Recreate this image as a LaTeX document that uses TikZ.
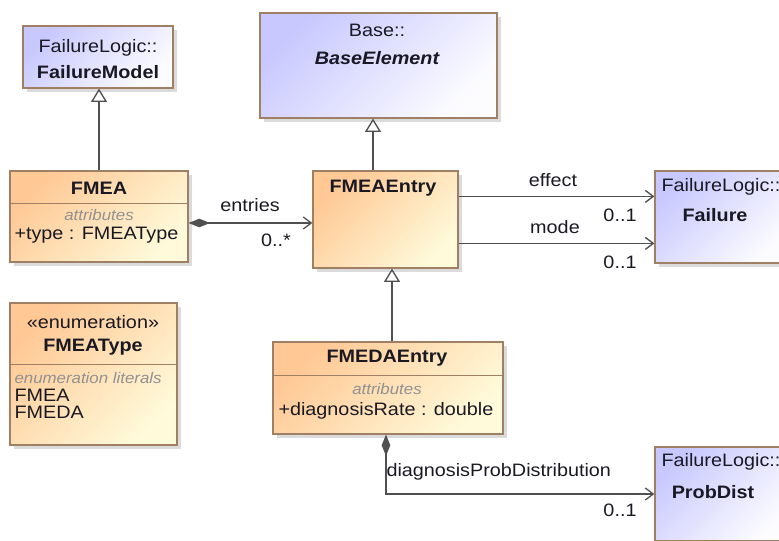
\documentclass[tikz,border=0pt]{standalone}
\usepackage{fontspec}
\setmainfont{Liberation Sans}[FakeStretch=1.1]
\usetikzlibrary{arrows.meta,shadows,fit,calc}

\definecolor{boxline}{RGB}{160,128,100}
\definecolor{linkline}{RGB}{80,80,80}
\definecolor{ink}{RGB}{25,25,35}
\definecolor{dimtext}{RGB}{145,145,145}
\definecolor{orangeA}{RGB}{255,200,148}
\definecolor{orangeB}{RGB}{255,250,218}
\definecolor{blueA}{RGB}{200,200,255}
\definecolor{blueB}{RGB}{252,252,255}

\tikzset{every picture/.style={line width=0.75pt}}
\tikzset{
  umlbox/.style={draw=boxline, line width=0.9pt, inner sep=0pt,
    drop shadow={shadow xshift=3pt, shadow yshift=-3pt, fill=black!35, opacity=0.4}},
  classbox/.style={umlbox, top color=orangeA, bottom color=orangeB, shading angle=45},
  refbox/.style={umlbox, top color=blueA, bottom color=blueB, shading angle=45},
  txt/.style={inner sep=0pt, text=ink, font=\fontsize{13.5}{15}\selectfont},
  cname/.style={txt, font=\fontsize{13.5}{15}\selectfont\bfseries},
  cgroup/.style={inner sep=0pt, text=dimtext, font=\fontsize{11.5}{13}\selectfont\itshape},
  sepline/.style={draw=boxline, line width=0.9pt},
  link/.style={draw=linkline, line width=1pt},
  gen/.style={link, -{Triangle[open, length=10pt, width=12pt, fill=white]}},
  assoc/.style={link, -{Straight Barb[length=6pt, width=9pt]}},
  compo/.style={link, {Diamond[length=16pt, width=6.5pt]}-{Straight Barb[length=6pt, width=9pt]}},
}

\begin{document}
\begin{tikzpicture}[x=0.75pt,y=0.75pt,yscale=-1,xscale=1]
	\useasboundingbox (0,0) rectangle (779,540);
	\clip (0,0) rectangle (779,540);

	%Shapes: Boxes
	\node[refbox, fit={(23,26) (173,88)}] (failmodel) {};
	\node[refbox, fit={(260,13) (497,118)}] (baseel) {};
	\node[classbox, fit={(10,171) (188,262)}] (fmea) {};
	\node[classbox, fit={(313,171) (458,268)}] (fmeaentry) {};
	\node[refbox, fit={(655,171) (790,263)}] (failure) {};
	\node[classbox, fit={(10,303) (177,445)}] (fmeatype) {};
	\node[classbox, fit={(273,342) (503,434)}] (fmedaentry) {};
	\node[refbox, fit={(655,447) (790,541)}] (probdist) {};

	%Straight Lines: compartments
	\draw[sepline] ($(fmea.north west)+(0,33)$) -- ($(fmea.north east)+(0,33)$);
	\draw[sepline] ($(fmeatype.north west)+(0,62)$) -- ($(fmeatype.north east)+(0,62)$);
	\draw[sepline] ($(fmedaentry.north west)+(0,34)$) -- ($(fmedaentry.north east)+(0,34)$);

	% Text Node
	\node[txt] (failmodelPkg) at (98,48) {FailureLogic::};
	\node[cname] (failmodelName) at (98,72) {FailureModel};
	% Text Node
	\node[txt] (baseelPkg) at (377,30) {Base::};
	\node[cname, font=\fontsize{13.5}{15}\selectfont\bfseries\itshape] (baseelName) at (377,58) {BaseElement};
	% Text Node
	\node[cname] (fmeaName) at (99,188) {FMEA};
	\node[cgroup] (fmeaGroup) at (99,215) {attributes};
	\node[txt, anchor=west] (fmeaAttr) at (14,235) {+type : FMEAType};
	% Text Node
	\node[cname] (fmeaentryName) at (383,188) {FMEAEntry};
	% Text Node
	\node[txt] (failurePkg) at (721,187) {FailureLogic::};
	\node[cname] (failureName) at (715,215) {Failure};
	% Text Node
	\node[txt] (fmeatypeStereo) at (93,322) {«enumeration»};
	\node[cname] (fmeatypeName) at (93,347) {FMEAType};
	\node[cgroup, anchor=west] (fmeatypeGroup) at (14,378) {enumeration literals};
	\node[txt, anchor=west] (litFmea) at (14,395) {FMEA};
	\node[txt, anchor=west] (litFmeda) at (14,412) {FMEDA};
	% Text Node
	\node[cname] (fmedaentryName) at (387,358) {FMEDAEntry};
	\node[cgroup] (fmedaentryGroup) at (387,389) {attributes};
	\node[txt, anchor=west] (fmedaentryAttr) at (278,411) {+diagnosisRate : double};
	% Text Node
	\node[txt] (probdistPkg) at (721,462) {FailureLogic::};
	\node[cname] (probdistName) at (713,492) {ProbDist};

	%Straight Lines: generalizations
	\draw[gen] (fmea.north) -- (fmea.north |- failmodel.south);
	\coordinate (entryTop) at ($(fmeaentry.north)+(-12.5,0)$);
	\draw[gen] (entryTop) -- (entryTop |- baseel.south);
	\coordinate (fmedaTop) at ($(fmedaentry.north)+(4,0)$);
	\draw[gen] (fmedaTop) -- (fmedaTop |- fmeaentry.south);

	%Straight Lines: associations
	\coordinate (entriesStart) at ($(fmea.east)+(0,6.5)$);
	\draw[compo] (entriesStart) -- (entriesStart -| fmeaentry.west);
	\coordinate (effectStart) at ($(fmeaentry.north east)+(0,26)$);
	\draw[assoc] (effectStart) -- (effectStart -| failure.west);
	\coordinate (modeStart) at ($(fmeaentry.north east)+(0,73)$);
	\draw[assoc] (modeStart) -- (modeStart -| failure.west);
	\coordinate (distStart) at ($(fmedaentry.south)+(-2,0)$);
	\draw[compo] (distStart) |- (probdist.west);

	% Text Node
	\node[txt] (entriesLbl) at (250,205) {entries};
	\node[txt] (entriesMul) at (276,240) {0..*};
	% Text Node
	\node[txt] (effectLbl) at (553,180) {effect};
	\node[txt] (effectMul) at (620,215) {0..1};
	% Text Node
	\node[txt] (modeLbl) at (555,227) {mode};
	\node[txt] (modeMul) at (620,262) {0..1};
	% Text Node
	\node[txt, anchor=west] (distLbl) at (386,472) {diagnosisProbDistribution};
	\node[txt] (distMul) at (620,510) {0..1};

\end{tikzpicture}
\end{document}
